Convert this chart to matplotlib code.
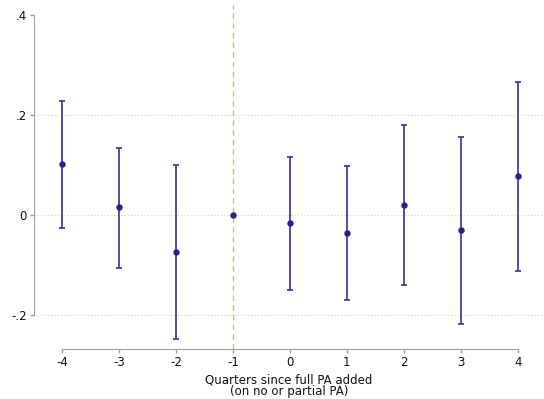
import numpy as np
import matplotlib.pyplot as plt

# Event-study estimates: quarters relative to full PA being added
quarters = [-4, -3, -2, -1, 0, 1, 2, 3, 4]
coef = [0.102, 0.015, -0.074, 0.0, -0.017, -0.036, 0.019, -0.031, 0.077]
ci_low = [-0.026, -0.105, -0.248, 0.0, -0.149, -0.170, -0.140, -0.217, -0.111]
ci_high = [0.228, 0.134, 0.100, 0.0, 0.116, 0.098, 0.179, 0.155, 0.265]

yticks = [-0.2, 0, 0.2, 0.4]
ytick_labels = ["-.2", "0", ".2", ".4"]

fig = plt.figure(figsize=(5.44, 3.99), dpi=100)
ax = fig.add_axes([33.5 / 544, 50 / 399, (544 - 33.5) / 544, (349 - 5) / 399])

ax.set_xlim(-4.5, 4.46)
ax.set_ylim(-0.268, 0.42)

# dotted horizontal grid
for yv in [-0.2, 0, 0.2]:
    ax.axhline(yv, color="#cfcfcf", linestyle=(0, (1, 2)), linewidth=0.8, zorder=0)

# reference period
ax.axvline(-1, color="#e9b840", linestyle=(0, (4, 3)), linewidth=1.0, zorder=1)

x = np.array(quarters)
c = np.array(coef)
lo = np.array(ci_low)
hi = np.array(ci_high)
has_ci = hi != lo
ax.errorbar(x[has_ci], c[has_ci],
            yerr=[c[has_ci] - lo[has_ci], hi[has_ci] - c[has_ci]],
            fmt="none", ecolor="#4a3c9e", elinewidth=1.3, capsize=2.5, capthick=1.3, zorder=2)
ax.plot(x, c, "o", color="#2a1f88", markersize=3.6, zorder=3)

ax.spines["top"].set_visible(False)
ax.spines["right"].set_visible(False)
ax.spines["left"].set_color("#a0a0a0")
ax.spines["bottom"].set_color("#a0a0a0")
ax.spines["left"].set_bounds(-0.2, 0.4)
ax.spines["bottom"].set_bounds(-4, 4)

ax.set_yticks(yticks)
ax.set_yticklabels(ytick_labels)
ax.set_xticks(quarters)
ax.set_xticklabels([str(q) for q in quarters])
ax.tick_params(axis="both", colors="#a0a0a0", labelcolor="#111111", labelsize=8.5,
               length=3, width=1, pad=2)

ax.set_xlabel("Quarters since full PA added\n(on no or partial PA)", fontsize=8.5,
              color="#111111", linespacing=0.9, labelpad=3)

fig.savefig("out.png", dpi=100)
